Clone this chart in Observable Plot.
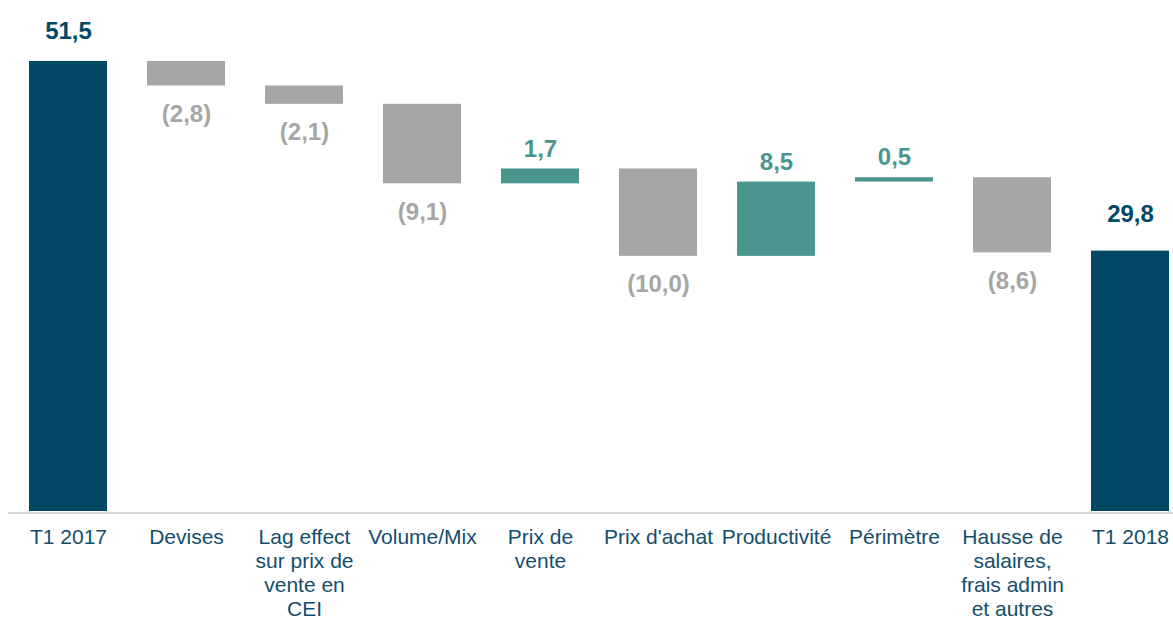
<!DOCTYPE html>
<html>
<head>
<meta charset="utf-8">
<script src="https://cdn.jsdelivr.net/npm/d3@7"></script>
<script src="https://cdn.jsdelivr.net/npm/@observablehq/plot@0.6"></script>
<style>
  html, body { margin: 0; padding: 0; background: #ffffff; }
  #chart svg { display: block; font-family: "Liberation Sans", Arial, sans-serif; }
</style>
</head>
<body>
<div id="chart"></div>
<script>
// Data
const categories = ["T1 2017", "Devises", "Lag effect", "Volume/Mix", "Prix de vente", "Prix d'achat", "Productivité", "Périmètre", "Hausse", "T1 2018"];
const tickLabels = ["T1 2017", "Devises", "Lag effect\nsur prix de\nvente en\nCEI", "Volume/Mix", "Prix de\nvente", "Prix d'achat", "Productivité", "Périmètre", "Hausse de\nsalaires,\nfrais admin\net autres", "T1 2018"];
const values = [51.5, -2.8, -2.1, -9.1, 1.7, -10.0, 8.5, 0.5, -8.6, 29.8];
const kinds = ["total", "delta", "delta", "delta", "delta", "delta", "delta", "delta", "delta", "total"];

// Build waterfall table
let running = 0;
const rows = categories.map((c, i) => {
  const v = values[i];
  let lo, hi;
  if (kinds[i] === "total") {
    lo = 0; hi = v; running = v;
  } else {
    const start = running;
    running = start + v;
    lo = Math.min(start, running); hi = Math.max(start, running);
  }
  const type = kinds[i] === "total" ? "total" : (v >= 0 ? "up" : "down");
  const fmt = Math.abs(v).toFixed(1).replace(".", ",");
  const label = v < 0 ? `(${fmt})` : fmt;
  return {cat: c, lo, hi, type, label, i};
});

const colors = {total: "#004866", up: "#4a968f", down: "#a6a6a6"};
const labelMap = new Map(categories.map((c, i) => [c, tickLabels[i]]));

const labelStyle = {fontSize: 24, fontWeight: "bold", lineAnchor: "middle"};

const chart = Plot.plot({
  width: 1173,
  height: 621,
  marginLeft: 8,
  marginRight: 0,
  marginTop: 0,
  marginBottom: 110,
  x: {domain: categories, range: [9, 1189], paddingInner: 0.34, paddingOuter: 0.17, label: null},
  y: {domain: [0, 51.5], range: [511, 61], axis: null},
  marks: [
    Plot.barY(rows, {x: "cat", y1: "lo", y2: "hi", fill: d => colors[d.type]}),
    Plot.ruleY([0], {stroke: "#d9d9d9", strokeWidth: 2, dy: 1.5}),
    Plot.text(rows.filter(d => d.type === "total" && d.i === 0), {
      x: "cat", y: "hi", text: "label", fill: colors.total, ...labelStyle, dy: -30
    }),
    Plot.text(rows.filter(d => d.type === "total" && d.i !== 0), {
      x: "cat", y: "hi", text: "label", fill: colors.total, ...labelStyle, dy: -37
    }),
    Plot.text(rows.filter(d => d.type === "up"), {
      x: "cat", y: "hi", text: "label", fill: colors.up, ...labelStyle, dy: -20
    }),
    Plot.text(rows.filter(d => d.type === "down"), {
      x: "cat", y: "lo", text: "label", fill: colors.down, ...labelStyle, dy: 28
    }),
    Plot.axisX({
      tickSize: 0, tickPadding: 16, fontSize: 21, lineHeight: 1.13, label: null,
      tickFormat: c => labelMap.get(c), fill: "#134e6b", textOverflow: null
    })
  ]
});

document.getElementById("chart").appendChild(chart);
</script>
</body>
</html>
